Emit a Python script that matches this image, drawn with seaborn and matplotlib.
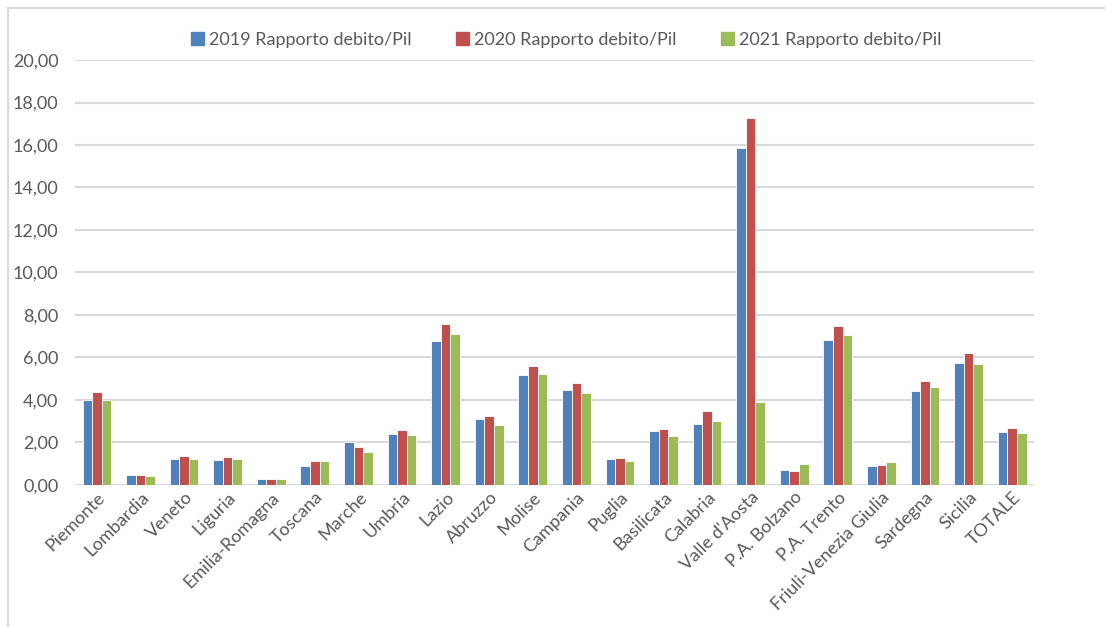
import pandas as pd
import matplotlib
matplotlib.use('Agg')
import matplotlib.pyplot as plt
import seaborn as sns
from matplotlib.ticker import FuncFormatter
from matplotlib.lines import Line2D

# data
regioni = ['Piemonte', 'Lombardia', 'Veneto', 'Liguria', 'Emilia-Romagna', 'Toscana',
           'Marche', 'Umbria', 'Lazio', 'Abruzzo', 'Molise', 'Campania', 'Puglia',
           'Basilicata', 'Calabria', "Valle d'Aosta", 'P.A. Bolzano', 'P.A. Trento',
           'Friuli-Venezia Giulia', 'Sardegna', 'Sicilia', 'TOTALE']
v2019 = [4.00, 0.47, 1.21, 1.18, 0.28, 0.88, 2.03, 2.40, 6.78, 3.10, 5.16, 4.45, 1.20,
         2.53, 2.88, 15.88, 0.71, 6.80, 0.87, 4.41, 5.76, 2.51]
v2020 = [4.37, 0.47, 1.37, 1.32, 0.28, 1.13, 1.78, 2.61, 7.58, 3.24, 5.60, 4.82, 1.25,
         2.64, 3.46, 17.27, 0.66, 7.49, 0.92, 4.91, 6.20, 2.70]
v2021 = [4.00, 0.44, 1.21, 1.22, 0.28, 1.13, 1.57, 2.36, 7.10, 2.82, 5.24, 4.35, 1.11,
         2.30, 3.02, 3.90, 0.99, 7.06, 1.06, 4.61, 5.71, 2.45]
serie = ['2019 Rapporto debito/Pil', '2020 Rapporto debito/Pil', '2021 Rapporto debito/Pil']
colori = ['#4F81BD', '#C0504D', '#9BBB59']

df = pd.DataFrame({'Regione': regioni * 3,
                   'Valore': v2019 + v2020 + v2021,
                   'Serie': [s for s in serie for _ in regioni]})

sns.set_style('white')
plt.rcParams['font.family'] = ['Lato', 'DejaVu Sans']

fig = plt.figure(figsize=(11.05, 6.27), dpi=100)
ax = fig.add_axes([0.068, 0.2265, 0.8677, 0.6778])

sns.barplot(data=df, x='Regione', y='Valore', hue='Serie', palette=colori,
            width=0.66, gap=0.0, edgecolor='white', linewidth=0.6, ax=ax,
            saturation=1)

ax.set_ylim(0, 20)
ax.set_xlim(-0.5, len(regioni) - 0.5)
ax.set_yticks(range(0, 21, 2))
ax.yaxis.set_major_formatter(FuncFormatter(lambda v, p: f'{v:.2f}'.replace('.', ',')))
ax.yaxis.grid(True, color='#D9D9D9', linewidth=1.5)
ax.set_axisbelow(True)
for s in ax.spines.values():
    s.set_visible(False)
ax.set_xlabel('')
ax.set_ylabel('')
ax.tick_params(axis='y', length=0, labelsize=13, labelcolor='#595959', pad=12)
ax.tick_params(axis='x', length=0, labelsize=13, labelcolor='#595959', pad=3)
plt.setp(ax.get_xticklabels(), rotation=45, ha='right', rotation_mode='anchor')

handles = [plt.Rectangle((0, 0), 1, 1, color=c) for c in colori]
ax.legend(handles, serie, loc='center', bbox_to_anchor=(0.5125, 1.047), ncol=3,
          frameon=False, fontsize=13, handlelength=0.7, handleheight=0.7,
          handletextpad=0.3, columnspacing=2.45, labelcolor='#595959')

# light chart frame
fig.add_artist(Line2D([0.0075, 1.0], [0.987, 0.987], color='#D9D9D9', linewidth=1.5))
fig.add_artist(Line2D([0.0075, 0.0075], [0.0, 0.987], color='#D9D9D9', linewidth=1.5))

fig.savefig('out.png', dpi=100)
